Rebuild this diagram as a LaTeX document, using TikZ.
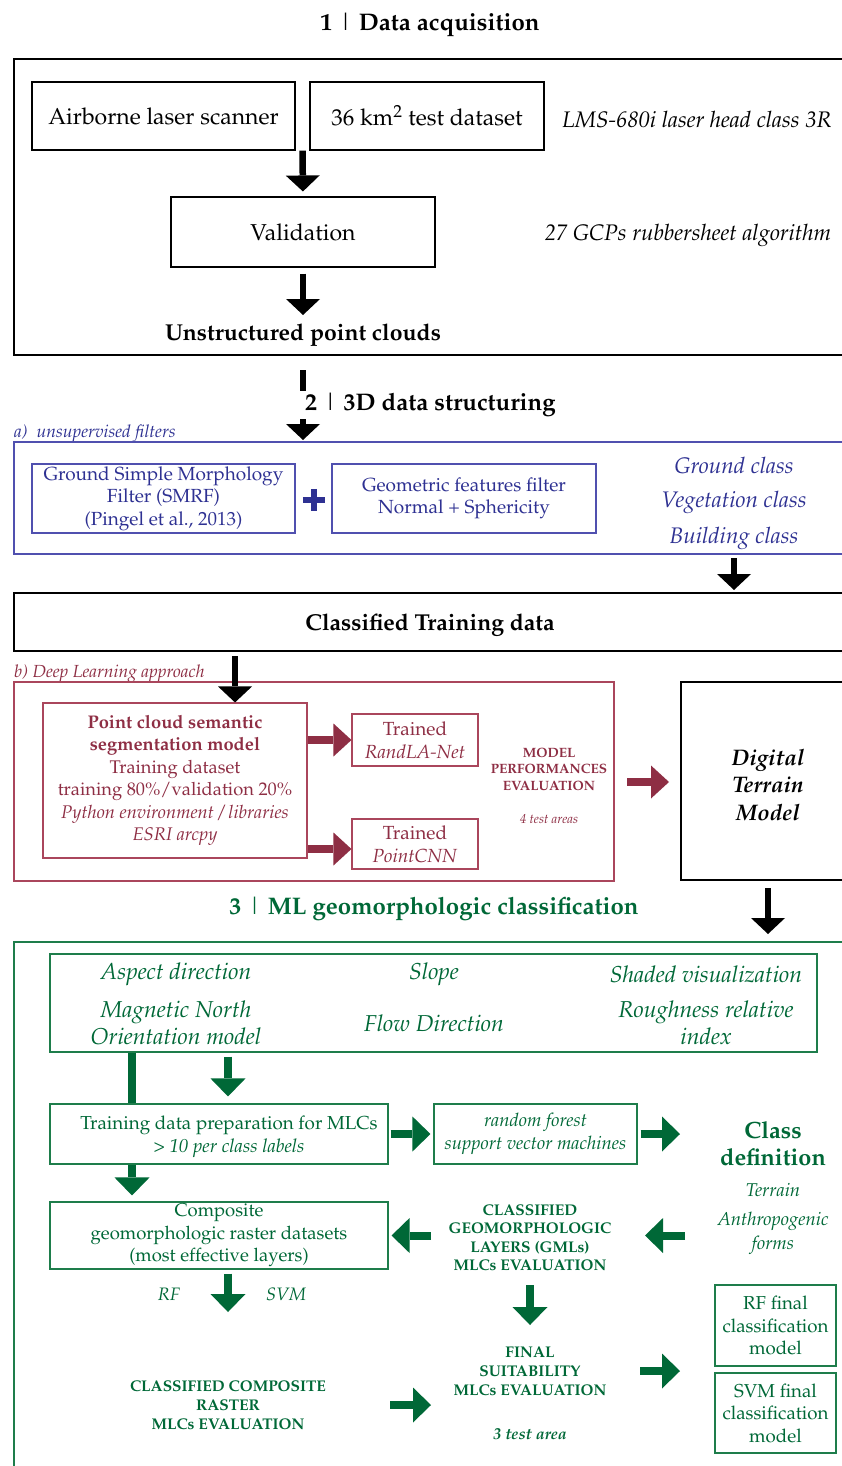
\documentclass[tikz,border=0pt]{standalone}
\usepackage[T1]{fontenc}
\usepackage{mathpazo}
\usetikzlibrary{arrows.meta,calc}
\definecolor{dlred}{RGB}{142,46,68}
\definecolor{dlredline}{RGB}{170,70,92}
\definecolor{dlblue}{RGB}{46,49,146}
\definecolor{dlblueline}{RGB}{80,80,175}
\definecolor{dlgreen}{RGB}{0,104,55}
\definecolor{dlgreenline}{RGB}{30,125,75}
\newcommand\fsz[2]{\fontsize{#1}{#2}\selectfont}
\begin{document}
\begin{tikzpicture}[x=1pt,y=-1pt,
  box/.style={draw,line width=1.1pt,inner sep=0pt,align=center},
  frame/.style={draw,line width=1.2pt},
  txt/.style={inner sep=0pt,align=center,yshift=-2pt},
  barrow/.style={line width=6.5pt,-{Triangle[width=34pt,length=16pt,line width=0pt]}},
  marrow/.style={dlred,line width=8pt,-{Triangle[width=33pt,length=18pt,line width=0pt]}},
  garrow/.style={dlgreen,line width=8pt,-{Triangle[width=35pt,length=18pt,line width=0pt]}},
  gline/.style={dlgreen,line width=8pt}]
\useasboundingbox (0,0) rectangle (842,1466);
\clip (0,0) rectangle (842,1466);

% ---------- Section 1
\node[txt,font=\fsz{24}{28}\bfseries] (t1) at (430,23) {1 {\mdseries\textbar} Data acquisition};
\draw[frame] (850,59) -| (14,355) -- (850,355);
\node[box,minimum width=263pt,minimum height=68pt,font=\fsz{23}{27}] (als) at (163.5,116) {Airborne laser scanner};
\node[box,minimum width=234pt,minimum height=68pt,font=\fsz{23}{27}] (km) at (427,116) {36 km\textsuperscript{2} test dataset};
\node[txt,font=\fsz{22.5}{27}\itshape] (lms) at (697,117) {LMS-680i laser head class 3R};
\node[box,minimum width=264pt,minimum height=70pt,font=\fsz{23}{27}] (val) at (303,232) {Validation};
\node[txt,font=\fsz{22.5}{27}\itshape] (gcp) at (688,233) {27 GCPs rubbersheet algorithm};
\node[txt,font=\fsz{23}{27}\bfseries] (unst) at (303,333) {Unstructured point clouds};
\draw[barrow,shorten >=5pt] ($(als.south east)!0.5!(km.south west)$) -- (val.north);
\draw[barrow,shorten <=6pt] (val.south) -- (val.south |- 0,315);

% ---------- Section 2
\draw[barrow] (val.south |- 0,370) -- (val.south |- 0,440);
\node[txt,anchor=west,fill=white,inner xsep=8pt,minimum height=28pt,font=\fsz{24}{28}\bfseries] (t2) at (297,403) {2 {\mdseries\textbar} 3D data structuring};
\node[txt,anchor=west,font=\fsz{17.5}{20}\itshape,text=dlblue] (la) at (14,432) {a)\ \ unsupervised filters};
\draw[frame,dlblueline] (850,442) -| (14,554) -- (850,554);
\node[box,draw=dlblueline,text=dlblue,minimum width=263pt,minimum height=69pt,font=\fsz{19}{22.5}] (smrf) at (163.5,498.5) {Ground Simple Morphology\\Filter (SMRF)\\(Pingel et al., 2013)};
\node[inner sep=0pt,minimum size=22pt] (plus) at (314,500) {};
\draw[dlblue,line width=5.5pt] (plus.west) -- (plus.east) (plus.north) -- (plus.south);
\node[box,draw=dlblueline,text=dlblue,minimum width=264pt,minimum height=69pt,font=\fsz{19}{22.5}] (geo) at (464,498.5) {Geometric features filter\\Normal + Sphericity};
\node[txt,font=\fsz{22.5}{27}\itshape,text=dlblue] (gc) at (734,463) {Ground class};
\node[txt,font=\fsz{22.5}{27}\itshape,text=dlblue] (vc) at (734,500) {Vegetation class};
\node[txt,font=\fsz{22.5}{27}\itshape,text=dlblue] (bc) at (734,536) {Building class};
\draw[frame] (850,593) -| (14,651) -- (850,651);
\node[txt,font=\fsz{23}{27}\bfseries] (ctd) at (430,623) {Classified Training data};
\draw[barrow] (bc.south |- 0,558) -- (bc.south |- 0,590);

% ---------- Deep learning
\node[txt,anchor=west,font=\fsz{17.5}{20}\itshape,text=dlred] (lb) at (14,672) {b) Deep Learning approach};
\draw[frame,dlredline] (14,682) rectangle (614,881);
\node[box,draw=dlredline,text=dlred,minimum width=264pt,minimum height=155pt,font=\fsz{18.3}{22.4}] (pcs) at (175,780.5)
  {\textbf{Point cloud semantic}\\\textbf{segmentation model}\\Training dataset\\training 80\%/validation 20\%\\\textit{Python environment / libraries}\\\textit{ESRI arcpy}};
\coordinate (dla) at (235,656);
\draw[barrow] (dla) -- (dla |- pcs.north);
\node[box,draw=dlredline,text=dlred,minimum width=126pt,minimum height=52pt,font=\fsz{19}{23}] (rand) at (415,740) {Trained\\\textit{RandLA-Net}};
\node[box,draw=dlredline,text=dlred,minimum width=126pt,minimum height=50pt,font=\fsz{19}{23}] (pcnn) at (415,844) {Trained\\\textit{PointCNN}};
\draw[marrow] (pcs.east |- rand.west) -- (rand.west);
\draw[marrow] (pcs.east |- 0,849) -- (pcnn.west |- 0,849);
\node[txt,font=\fsz{13.5}{16.5}\bfseries,text=dlred] (mpe) at (549,767) {MODEL\\PERFORMANCES\\EVALUATION};
\node[txt,font=\fsz{13}{16}\itshape,text=dlred] (tta) at (549,817) {4 test areas};
\draw[frame] (850,682) -| (681,880) -- (850,880);
\node[txt,font=\fsz{22.5}{27.5}\bfseries\itshape] (dtm) at (768,783) {Digital\\Terrain\\Model};
\coordinate (dtmw) at (681,782);
\draw[marrow,shorten >=12pt] (dtmw -| 627,0) -- (dtmw);
\draw[barrow] (dtm.south |- 0,888) -- (dtm.south |- 0,934);

% ---------- Section 3
\node[txt,font=\fsz{24}{28}\bfseries,text=dlgreen] (t3) at (434,907) {3 {\mdseries\textbar} ML geomorphologic classification};
\draw[frame,dlgreenline] (850,942) -| (14,1480);
\node[box,draw=dlgreenline,minimum width=767pt,minimum height=98pt] (feat) at (433.5,1003) {};
\begin{scope}[every node/.style={txt,font=\fsz{23}{27}\itshape,text=dlgreen}]
\node (asp) at (176,972) {Aspect direction};
\node (slp) at (434,972) {Slope};
\node (shd) at (706,972) {Shaded visualization};
\node (mag) at (176,1020.5) {Magnetic North\\Orientation model};
\node (flw) at (434,1021) {Flow Direction};
\node (rgh) at (706,1020.5) {Roughness relative\\index};
\end{scope}
\node[box,draw=dlgreenline,minimum width=338pt,minimum height=60pt] (tdp) at (219,1134) {};
\node[txt,font=\fsz{18.8}{23},text=dlgreen] (tdpt) at (229,1135) {Training data preparation for MLCs\\\textit{\textgreater{} 10 per class labels}};
\draw[gline] (feat.south -| 132,0) -- (tdp.north -| 132,0);
\draw[garrow,shorten <=4pt,shorten >=7pt] (feat.south -| 228,0) -- (tdp.north -| 228,0);
\node[box,draw=dlgreenline,text=dlgreen,minimum width=203pt,minimum height=60pt,font=\fsz{18.5}{23}\itshape] (rf) at (535.5,1134) {random forest\\support vector machines};
\draw[garrow,shorten <=2pt,shorten >=3pt] (tdp.east) -- (rf.west);
\node[txt,font=\fsz{23.5}{27}\bfseries,text=dlgreen] (cdef) at (773,1141.5) {Class\\definition};
\draw[garrow,shorten <=3pt] (rf.east) -- (rf.east -| 680,0);
\node[txt,font=\fsz{18.5}{22}\itshape,text=dlgreen] (ter) at (773,1188) {Terrain};
\node[txt,font=\fsz{18.5}{24}\itshape,text=dlgreen] (ant) at (773,1231) {Anthropogenic\\forms};
\node[box,draw=dlgreenline,text=dlgreen,minimum width=338pt,minimum height=67pt,font=\fsz{18.5}{22.5}] (comp) at (219,1235.5) {Composite\\geomorphologic raster datasets\\(most effective layers)};
\draw[garrow,shorten >=6pt] (tdp.south -| 132,0) -- (comp.north -| 132,0);
\node[txt,font=\fsz{15.5}{18.5}\bfseries,text=dlgreen] (cgl) at (530,1235.5) {CLASSIFIED\\GEOMORPHOLOGIC\\LAYERS (GMLs)\\MLCs EVALUATION};
\draw[garrow,shorten >=3pt] (comp.east -| 431,0) -- (comp.east);
\draw[garrow] (comp.east -| 685,0) -- (comp.east -| 645,0);
\node[txt,font=\fsz{18}{22}\itshape,text=dlgreen] (rfl) at (169,1292) {RF};
\node[txt,font=\fsz{18}{22}\itshape,text=dlgreen] (svml) at (286,1292) {SVM};
\node[txt,font=\fsz{15.5}{19}\bfseries,text=dlgreen] (ccr) at (228,1403) {CLASSIFIED COMPOSITE\\RASTER\\MLCs EVALUATION};
\draw[garrow] (comp.south -| 228,0) ++(0,4) -- (228,1312);
\node[txt,font=\fsz{15.5}{19}\bfseries,text=dlgreen] (fin) at (530,1369) {FINAL\\SUITABILITY\\MLCs EVALUATION};
\node[txt,font=\fsz{16}{19}\bfseries\itshape,text=dlgreen] (tta3) at (530,1432) {3 test area};
\draw[garrow] (cgl.south |- 0,1285) -- (cgl.south |- 0,1325);
\draw[garrow] (ccr.east -| 390,0) -- (ccr.east -| 431,0);
\node[box,draw=dlgreenline,text=dlgreen,minimum width=121pt,minimum height=81pt,font=\fsz{18.7}{22.5}] (rff) at (775.5,1325.5) {RF final\\classification\\model};
\node[box,draw=dlgreenline,text=dlgreen,minimum width=121pt,minimum height=80pt,font=\fsz{18.7}{22.5}] (svmf) at (775.5,1413) {SVM final\\classification\\model};
\draw[garrow] (fin.east -| 640,0) -- (fin.east -| 680,0);
\end{tikzpicture}
\end{document}
